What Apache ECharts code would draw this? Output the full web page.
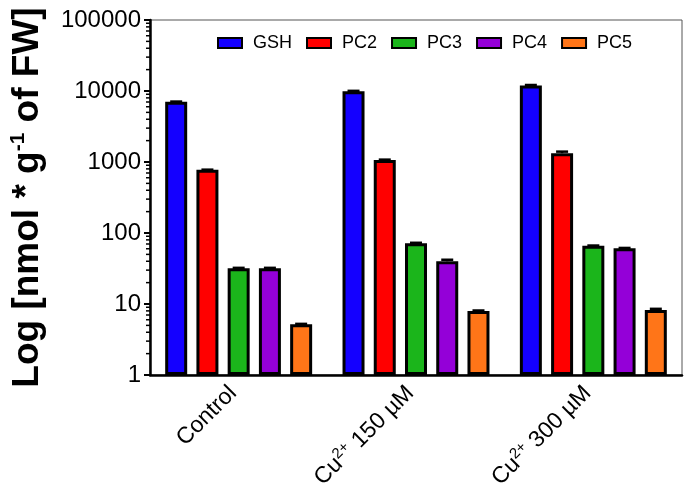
<!DOCTYPE html>
<html>
<head>
<meta charset="utf-8">
<script src="https://cdn.jsdelivr.net/npm/echarts@6/dist/echarts.min.js"></script>
<style>html,body{margin:0;padding:0;background:#fff}#c{width:685px;height:504px}</style>
</head>
<body>
<div id="c"></div>
<script>
var categories = ['Control', 'Cu2+ 150 µM', 'Cu2+ 300 µM'];
var seriesNames = ['GSH', 'PC2', 'PC3', 'PC4', 'PC5'];
var GSH = [7050, 9900, 12000];
var PC2 = [775, 1065, 1330];
var PC3 = [32, 72, 66];
var PC4 = [32, 40, 61];
var PC5 = [5.2, 8.0, 8.2];
var GSH_err = [50, 150, 150];
var PC2_err = [5, 15, 70];
var PC3_err = [0.3, 0.8, 0.6];
var PC4_err = [0.3, 2.0, 0.6];
var PC5_err = [0.05, 0.1, 0.35];
var yTicks = [1, 10, 100, 1000, 10000, 100000];
var minorMult = [2, 3, 4, 5, 6, 7, 8, 9];

var colors = ['#1400FF', '#FF0000', '#1BB51B', '#9400D8', '#FF7518'];
var values = [GSH, PC2, PC3, PC4, PC5];
var errs = [GSH_err, PC2_err, PC3_err, PC4_err, PC5_err];
var barW = 22, barGapPct = 42;
var pitch = barW * (1 + barGapPct / 100);
var font = "'Liberation Sans', Arial, sans-serif";

var chart = echarts.init(document.getElementById('c'));
var series = [];
values.forEach(function (v, i) {
  series.push({
    name: seriesNames[i], type: 'bar', data: v, barWidth: barW,
    barGap: barGapPct + '%',
    itemStyle: { color: colors[i], borderColor: '#000', borderWidth: 3 },
    z: 2
  });
});
var errData = [];
values.forEach(function (v, s) {
  v.forEach(function (val, c) { errData.push([c, s, val, errs[s][c]]); });
});
series.push({
  type: 'custom', silent: true, z: 1, encode: { x: 0, y: 2 },
  data: errData,
  renderItem: function (params, api) {
    var c = api.value(0), s = api.value(1), val = api.value(2), e = api.value(3);
    var x = api.coord([c, val])[0] + (s - 2) * pitch;
    var y0 = api.coord([c, val])[1];
    var y1 = api.coord([c, val + e])[1];
    return { type: 'group', children: [
      { type: 'line', shape: { x1: x, y1: y0, x2: x, y2: y1 }, style: { stroke: '#000', lineWidth: 2.5 } },
      { type: 'line', shape: { x1: x - 6, y1: y1, x2: x + 6, y2: y1 }, style: { stroke: '#000', lineWidth: 2.5 } }
    ]};
  }
});
series.push({
  type: 'custom', silent: true, z: 5, encode: { x: 0, y: 1 },
  data: [[0, 1]],
  renderItem: function (params, api) {
    var x0 = params.coordSys.x;
    var kids = [];
    for (var d = 0; d < yTicks.length - 1; d++) {
      minorMult.forEach(function (m) {
        var y = api.coord([0, yTicks[d] * m])[1];
        kids.push({ type: 'line', shape: { x1: x0 - 4, y1: y, x2: x0, y2: y }, style: { stroke: '#000', lineWidth: 1.5 } });
      });
    }
    return { type: 'group', children: kids };
  }
});

chart.setOption({
  animation: false,
  textStyle: { fontFamily: font },
  legend: {
    data: seriesNames, left: 212, top: 29, itemWidth: 24, itemHeight: 10, itemGap: 14,
    icon: 'rect', textStyle: { fontSize: 18, color: '#000', fontFamily: font, padding: [0, 0, 0, 6] }
  },
  grid: { left: 146, right: 3, top: 20, bottom: 129, show: true, borderColor: '#555', borderWidth: 1 },
  xAxis: {
    type: 'category', data: categories,
    axisLine: { lineStyle: { color: '#000', width: 2.5 } },
    axisTick: { alignWithLabel: true, length: 5, lineStyle: { color: '#000', width: 2 } },
    axisLabel: {
      rotate: 45, fontSize: 23, color: '#000', margin: 9, fontFamily: font, padding: [0, 8, 0, 0],
      formatter: function (v) { return v.replace('Cu2+', 'Cu{sup|2+}'); },
      rich: { sup: { fontSize: 15, verticalAlign: 'top', padding: [0, 0, 12, 0], color: '#000' } }
    }
  },
  yAxis: {
    type: 'log', logBase: 10, min: 1, max: 100000,
    axisLine: { show: true, lineStyle: { color: '#000', width: 2.5 } },
    axisTick: { show: true, length: 6, lineStyle: { color: '#000', width: 2 } },
    splitLine: { show: false },
    axisLabel: { fontSize: 24, color: '#000', margin: 9, fontFamily: font,
      formatter: function (v) { return String(Math.round(v)); } },
    name: 'Log [nmol * g{sup|-1} of FW]', nameLocation: 'middle', nameGap: 103,
    nameTextStyle: {
      fontSize: 37, fontWeight: 'bold', color: '#000', fontFamily: font,
      rich: { sup: { fontSize: 21, fontWeight: 'bold', verticalAlign: 'top', padding: [0, 0, 18, 0], color: '#000' } }
    }
  },
  series: series
});
</script>
</body>
</html>
